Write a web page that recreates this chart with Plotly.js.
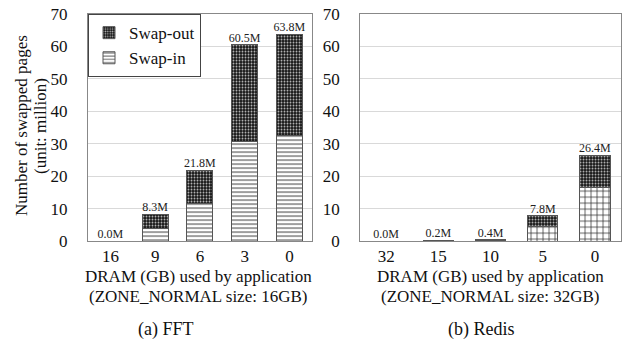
<!DOCTYPE html>
<html><head><meta charset="utf-8">
<script src="https://cdn.plot.ly/plotly-3.0.1.min.js"></script>
<style>html,body{margin:0;padding:0;background:#fff}</style>
</head><body><div id="chart" style="width:635px;height:344px"></div>
<script>
const fftCats = ["16","9","6","3","0"];
const fftSwapIn = [0, 3.8, 11.5, 30.8, 32.5];
const fftTotal = [0, 8.3, 21.8, 60.5, 63.8];
const redisCats = ["32","15","10","5","0"];
const redisSwapIn = [0, 0.1, 0.2, 4.4, 16.4];
const redisTotal = [0, 0.2, 0.4, 7.8, 26.4];
const yTicks = [0,10,20,30,40,50,60,70];

const serif = "Liberation Serif";
const fftSwapOut = fftTotal.map((t,i)=>+(t - fftSwapIn[i]).toFixed(2));
const redisSwapOut = redisTotal.map((t,i)=>+(t - redisSwapIn[i]).toFixed(2));

function inTrace(x,y,xa,ya,show,shape,size){
  return {type:"bar", x:x, y:y, xaxis:xa, yaxis:ya, name:"Swap-in", showlegend:show, legendrank:2,
    width:0.58,
    marker:{color:"white", line:{color:"#555", width:1},
      pattern:{shape:shape, bgcolor:"white", fgcolor:"#222", size:size, solidity:0.22}}};
}
function outTrace(x,y,xa,ya,show){
  return {type:"bar", x:x, y:y, xaxis:xa, yaxis:ya, name:"Swap-out", showlegend:show, legendrank:1,
    width:0.58,
    marker:{color:"#111", line:{color:"#555", width:1},
      pattern:{shape:".", bgcolor:"#111", fgcolor:"#bbb", size:3, solidity:0.35}}};
}
function lblTrace(x,tot,xa,ya){
  return {type:"scatter", mode:"text", x:x, y:tot, xaxis:xa, yaxis:ya, showlegend:false,
    text:tot.map(v=>v.toFixed(1)+"M"), textposition:"top center", cliponaxis:false,
    textfont:{family:serif, size:12, color:"#222"}, hoverinfo:"skip"};
}

const data = [
  inTrace(fftCats, fftSwapIn, "x","y", true, "-", 4),
  outTrace(fftCats, fftSwapOut, "x","y", true),
  lblTrace(fftCats, fftTotal, "x","y"),
  inTrace(redisCats, redisSwapIn, "x2","y2", false, "+", 6),
  outTrace(redisCats, redisSwapOut, "x2","y2", false),
  lblTrace(redisCats, redisTotal, "x2","y2"),
];

const yax = {range:[0,70], tickvals:yTicks, showgrid:true, gridcolor:"#d9d9d9", gridwidth:1,
  showline:true, linecolor:"#888", mirror:true, zeroline:false, ticks:"", ticklabelstandoff:16,
  tickfont:{family:serif, size:17, color:"#111"}};
const xax = {type:"category", showline:true, linecolor:"#888", mirror:true, ticks:"",
  tickfont:{family:serif, size:17, color:"#111"}};

function ann(text,x,y,size){
  return {text:text, xref:"paper", yref:"paper", x:x/635, y:1-y/344, xanchor:"center", yanchor:"middle",
    showarrow:false, font:{family:serif,size:size,color:"#111"}};
}

const layout = {
  width:635, height:344, margin:{l:0,r:0,t:0,b:0},
  paper_bgcolor:"white", plot_bgcolor:"white", barmode:"stack",
  font:{family:serif, color:"#111"},
  xaxis:Object.assign({}, xax, {domain:[0.1386,0.491], anchor:"y"}),
  yaxis:Object.assign({}, yax, {domain:[0.2994,0.959], anchor:"x"}),
  xaxis2:Object.assign({}, xax, {domain:[0.567,0.978], anchor:"y2"}),
  yaxis2:Object.assign({}, yax, {domain:[0.2994,0.959], anchor:"x2"}),
  legend:{x:0.1386, y:0.959, xanchor:"left", yanchor:"top", bgcolor:"white", bordercolor:"#444", borderwidth:1,
    font:{family:serif,size:17}, traceorder:"normal", tracegroupgap:0, itemwidth:30},
  annotations:[
    ann("DRAM (GB) used by application", 198, 276, 17),
    ann("(ZONE_NORMAL size: 16GB)", 198, 296, 17),
    ann("DRAM (GB) used by application", 490, 276, 17),
    ann("(ZONE_NORMAL size: 32GB)", 490, 296, 17),
    ann("(a) FFT", 166, 329, 18),
    ann("(b) Redis", 481, 329, 18),
    Object.assign(ann("Number of swapped pages", 21, 126, 17), {textangle:-90}),
    Object.assign(ann("(unit: million)", 40, 126, 17), {textangle:-90})
  ]
};
Plotly.newPlot("chart", data, layout, {displayModeBar:false, staticPlot:true});
</script></body></html>
